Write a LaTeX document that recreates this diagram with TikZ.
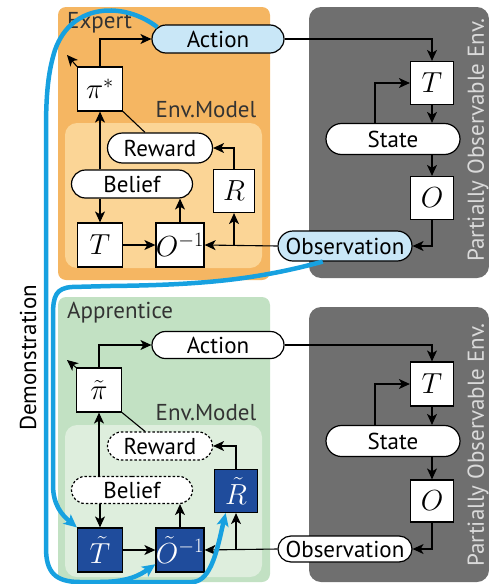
\RequirePackage{fix-cm}
\documentclass[tikz,border=0pt]{standalone}
\usepackage{fontspec}
\setmainfont{PT Sans}
\usetikzlibrary{shapes.misc,arrows.meta}

\definecolor{expertbg}{HTML}{F5B662}
\definecolor{expertin}{HTML}{FBD596}
\definecolor{apprbg}{HTML}{C2E1C3}
\definecolor{apprin}{HTML}{DEEEDD}
\definecolor{envgray}{HTML}{6F6F6F}
\definecolor{envtext}{HTML}{DADADA}
\definecolor{pillblue}{HTML}{C9E7F7}
\definecolor{learned}{HTML}{1F4C9C}
\definecolor{demo}{HTML}{17A1E0}

\begin{document}
\begin{tikzpicture}[x=1pt,y=-1pt,
  every node/.style={font=\fontsize{23}{26}\selectfont},
  box/.style={draw, fill=white, line width=1.2pt, minimum width=45pt, minimum height=44pt, inner sep=0pt,
    font=\fontsize{29}{32}\selectfont},
  lbox/.style={box, fill=learned, text=white},
  pill/.style={rounded rectangle, draw, fill=white, line width=1.2pt, inner sep=0pt},
  dpill/.style={pill, dashed, dash pattern=on 2.5pt off 2pt},
  lbl/.style={text=black!80, inner sep=0pt},
  envlbl/.style={text=envtext, rotate=90, inner sep=0pt},
  arr/.style={line width=1.1pt, -{Stealth[length=11pt,width=10pt,inset=3pt]}},
  link/.style={line width=1.1pt},
  demoline/.style={draw=demo, line width=4.5pt},
  demoarr/.style={demoline, -{Stealth[length=13pt,width=12pt,inset=3pt]}},
]
\useasboundingbox (0,0) rectangle (489,584);

% ---------- panels ----------
\fill[expertbg, rounded corners=8pt] (58,7) rectangle (270,280);
\fill[expertin, rounded corners=12pt] (65,123) rectangle (262,268);
\fill[apprbg, rounded corners=8pt] (58,297) rectangle (270,582);
\fill[apprin, rounded corners=12pt] (65,425) rectangle (262,577);
\fill[envgray, rounded corners=12pt] (309,7) rectangle (489,278);
\fill[envgray, rounded corners=12pt] (309,307) rectangle (489,582);

\node[envlbl] (envLblA) at (478,140) {Partially Observable Env.};
\node[envlbl] (envLblB) at (478,445) {Partially Observable Env.};
\node[rotate=90, inner sep=0pt] (demoLbl) at (28,358) {Demonstration};

% ---------- expert ----------
\node[lbl, anchor=west] (eLbl) at (67,23) {Expert};
\node[lbl] (eEnv) at (206,110) {Env.Model};
\node[pill, fill=pillblue, minimum width=132pt, minimum height=28pt] (eAct) at (218,39) {Action};
\node[box] (ePi) at (100,89) {$\pi^*$};
\node[pill, minimum width=105pt, minimum height=30pt] (eRew) at (160,148) {Reward};
\node[pill, minimum width=121pt, minimum height=28pt] (eBel) at (132,184) {Belief};
\node[box, minimum width=41pt, minimum height=43pt] (eR) at (234,191) {$R$};
\node[box] (eT) at (100,245) {$T$};
\node[box] (eOi) at (180,245) {$O^{-1}$};
\node[pill, fill=pillblue, minimum width=134pt, minimum height=30pt] (eObs) at (345,246) {Observation};
\node[box, minimum width=43pt, minimum height=43pt] (gT) at (432,83) {$T$};
\node[pill, minimum width=134pt, minimum height=31pt] (gS) at (393,139) {State};
\node[box, minimum width=43pt, minimum height=43pt] (gO) at (432,198) {$O$};
\coordinate (ePiOut) at (67,55);

\draw[arr] (ePi.north) |- (eAct.west);
\draw[arr] (ePi.north west) -- (ePiOut);
\draw[arr] (eAct.east) -| (gT.north);
\draw[arr] ([xshift=-18pt]gS.north) |- (gT.west);
\draw[arr] (gT.south) -- (gS.north -| gT.south);
\draw[arr] (gS.south -| gO.north) -- (gO.north);
\draw[arr] (gO.south) |- (eObs.east);
\draw[arr] (eObs.west) -- (eOi.east);
\draw[arr] (eObs.west -| eR.south) -- (eR.south);
\draw[arr] (eR.north) |- (eRew.east);
\draw[link] ([xshift=-15pt]eRew.north) -- (ePi.south east);
\draw[arr] (eBel.north -| ePi.south) -- (ePi.south);
\draw[arr] (eBel.south -| eT.north) -- (eT.north);
\draw[arr] (eT.east) -- (eOi.west);
\draw[arr] (eOi.north) -- (eOi.north |- eBel.south);

% ---------- apprentice ----------
\node[lbl, anchor=west] (aLbl) at (67,313) {Apprentice};
\node[lbl] (aEnv) at (206,413) {Env.Model};
\node[pill, minimum width=132pt, minimum height=27pt] (aAct) at (218,345) {Action};
\node[box] (aPi) at (99,390) {$\tilde{\pi}$};
\node[dpill, minimum width=105pt, minimum height=28pt] (aRew) at (160,446) {Reward};
\node[dpill, minimum width=121pt, minimum height=27pt] (aBel) at (132,490) {Belief};
\node[lbox, minimum width=43pt, minimum height=43pt] (aR) at (236,491) {$\tilde{R}$};
\node[lbox] (aT) at (100,550) {$\tilde{T}$};
\node[lbox] (aOi) at (180,550) {$\tilde{O}^{-1}$};
\node[pill, minimum width=134pt, minimum height=26pt] (aObs) at (345,549) {Observation};
\node[box, minimum width=43pt, minimum height=44pt] (hT) at (432,384) {$T$};
\node[pill, minimum width=134pt, minimum height=31pt] (hS) at (393,441) {State};
\node[box, minimum width=43pt, minimum height=42pt] (hO) at (432,501) {$O$};
\coordinate (aPiOut) at (67,360);

\draw[arr] (aPi.north) |- (aAct.west);
\draw[arr] (aPi.north west) -- (aPiOut);
\draw[arr] (aAct.east) -| (hT.north);
\draw[arr] ([xshift=-18pt]hS.north) |- (hT.west);
\draw[arr] (hT.south) -- (hS.north -| hT.south);
\draw[arr] (hS.south -| hO.north) -- (hO.north);
\draw[arr] (hO.south) |- (aObs.east);
\draw[arr] (aObs.west) -- (aOi.east);
\draw[arr] (aObs.west -| aR.south) -- (aR.south);
\draw[arr] (aR.north) |- (aRew.east);
\draw[link] ([xshift=-15pt]aRew.north) -- (aPi.south east);
\draw[arr] (aBel.north -| aPi.south) -- (aPi.south);
\draw[arr] (aBel.south -| aT.north) -- (aT.north);
\draw[arr] (aT.east) -- (aOi.west);
\draw[arr] (aOi.north) -- (aOi.north |- aBel.south);

% ---------- demonstration paths ----------
\coordinate (demoSplit) at (100,582);
\draw[demoarr] (eAct.169) .. controls (125,2) and (72,2) .. (55,50)
  .. controls (48,72) and (46,95) .. (46,130) -- (46,548)
  .. controls (46,572) and (55,582) .. (80,582) -- (192,582)
  .. controls (212,582) and (218,545) .. (aR.-115);
\draw[demoarr] (demoSplit) .. controls (128,582) and (140,575) .. (aOi.210);
\draw[demoarr] (eObs.215) .. controls (255,280) and (200,285) .. (110,286)
  -- (72,287) .. controls (56,288) and (53,296) .. (53,315) -- (53,485)
  .. controls (53,505) and (62,515) .. (aT.north west);
\end{tikzpicture}
\end{document}
